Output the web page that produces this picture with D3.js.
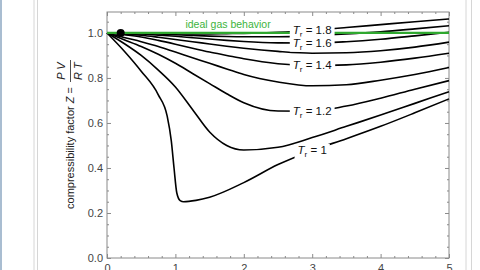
<!DOCTYPE html>
<html>
<head>
<meta charset="utf-8">
<script src="https://cdn.jsdelivr.net/npm/d3@7"></script>
<style>
body { margin: 0; background: #fff; }
svg { display: block; font-family: "Liberation Sans", Arial, sans-serif; }
</style>
</head>
<body>
<div id="chart"></div>
<script>
// reduced pressure grid shared by most isotherms
const PR = [0, 0.25, 0.5, 0.75, 1, 1.25, 1.5, 1.75, 2, 2.5, 3, 3.5, 4, 4.5, 5];
// Tr = 1 needs a finer grid near the critical point
const PR_TR10 = [0, 0.25, 0.5, 0.75, 0.88, 0.94, 0.98, 1.02, 1.07, 1.12, 1.3, 1.5, 2, 2.5, 3, 3.5, 4, 4.5, 5];
const Z_TR10 = [1, 0.92, 0.83, 0.725, 0.63, 0.52, 0.40, 0.29, 0.255, 0.25, 0.256, 0.27, 0.335, 0.415, 0.478, 0.53, 0.585, 0.645, 0.707];
const Z_TR11 = [1, 0.953, 0.90, 0.835, 0.76, 0.66, 0.56, 0.50, 0.48, 0.492, 0.535, 0.585, 0.635, 0.687, 0.739];
const Z_TR12 = [1, 0.97, 0.94, 0.905, 0.865, 0.82, 0.775, 0.73, 0.69, 0.653, 0.652, 0.675, 0.71, 0.75, 0.788];
const Z_TR13 = [1, 0.98, 0.961, 0.94, 0.915, 0.89, 0.865, 0.84, 0.815, 0.782, 0.765, 0.77, 0.79, 0.815, 0.846];
const Z_TR14 = [1, 0.992, 0.982, 0.967, 0.95, 0.932, 0.915, 0.90, 0.885, 0.863, 0.855, 0.858, 0.87, 0.888, 0.91];
const Z_TR15 = [1, 0.996, 0.99, 0.981, 0.971, 0.961, 0.951, 0.941, 0.932, 0.918, 0.91, 0.912, 0.921, 0.937, 0.959];
const Z_TR16 = [1, 0.998, 0.995, 0.99, 0.985, 0.979, 0.973, 0.967, 0.962, 0.956, 0.955, 0.961, 0.972, 0.987, 1.003];
const Z_TR17 = [1, 0.999, 0.997, 0.995, 0.992, 0.989, 0.986, 0.984, 0.983, 0.983, 0.987, 0.995, 1.005, 1.018, 1.032];
const Z_TR18 = [1, 1, 0.999, 0.998, 0.997, 0.996, 0.996, 0.997, 0.998, 1.003, 1.012, 1.024, 1.037, 1.05, 1.062];

const TR_VALUES = [1, 1.1, 1.2, 1.3, 1.4, 1.5, 1.6, 1.7, 1.8];
const LABELLED_TR = [1.8, 1.6, 1.4, 1.2, 1];
const LABEL_TEXT = ["1.8", "1.6", "1.4", "1.2", "1"];
const LABEL_PR = 3;

const IDEAL_PR = [0, 5];
const IDEAL_Z = [1, 1];
const MARKER_PR = 0.2;

const X_TICKS = [0, 1, 2, 3, 4, 5];
const Y_TICKS = [0, 0.2, 0.4, 0.6, 0.8, 1.0];

const WIDTH = 480;
const HEIGHT = 270;
const LEFT = 107, RIGHT = 449, TOP = 12, BOTTOM = 258;

const X_SCALE = d3.scaleLinear().domain([0, 5]).range([LEFT, RIGHT]);
const Y_SCALE = d3.scaleLinear().domain([0, 1.093]).range([BOTTOM, TOP]);

const zSets = [Z_TR10, Z_TR11, Z_TR12, Z_TR13, Z_TR14, Z_TR15, Z_TR16, Z_TR17, Z_TR18];
const curves = TR_VALUES.map((tr, i) => {
    const pr = i === 0 ? PR_TR10 : PR;
    return { tr: tr, points: pr.map((p, j) => [p, zSets[i][j]]) };
});

let svg = d3.select('#chart')
            .append('svg')
            .attr('width', WIDTH)
            .attr('height', HEIGHT);

// window chrome around the notebook
svg.append('rect').attr('x', 0).attr('y', 0).attr('width', 2).attr('height', HEIGHT).attr('fill', '#a9bdd1');
[34, 37.5, 466, 471.5].forEach(x => {
    svg.append('line')
       .attr('x1', x).attr('x2', x).attr('y1', 0).attr('y2', HEIGHT)
       .attr('stroke', '#d6d6d6').attr('stroke-width', 1);
});

// frame ticks (inward, Mathematica style)
const minorX = d3.range(0, 5.001, 0.2).filter(v => Math.abs(v - Math.round(v)) > 1e-6);
const minorY = d3.range(0, 1.0901, 0.05).filter(v => Math.abs(v * 5 - Math.round(v * 5)) > 1e-6);

function styleAxis(g) {
    g.select('.domain').remove();
    g.selectAll('line').attr('stroke', '#8a8a8a');
    g.selectAll('text').attr('fill', '#444').attr('font-size', 11)
     .attr('font-family', '"Liberation Sans", Arial, sans-serif');
}

svg.append('g').attr('transform', 'translate(' + LEFT + ',0)')
   .call(d3.axisLeft(Y_SCALE).tickValues(Y_TICKS).tickSize(-4).tickPadding(4).tickFormat(d3.format('.1f')))
   .call(styleAxis);
svg.append('g').attr('transform', 'translate(' + LEFT + ',0)')
   .call(d3.axisLeft(Y_SCALE).tickValues(minorY).tickSize(-2).tickFormat(''))
   .call(styleAxis);
svg.append('g').attr('transform', 'translate(' + RIGHT + ',0)')
   .call(d3.axisRight(Y_SCALE).tickValues(Y_TICKS).tickSize(-4).tickFormat(''))
   .call(styleAxis);
svg.append('g').attr('transform', 'translate(' + RIGHT + ',0)')
   .call(d3.axisRight(Y_SCALE).tickValues(minorY).tickSize(-2).tickFormat(''))
   .call(styleAxis);
svg.append('g').attr('transform', 'translate(0,' + BOTTOM + ')')
   .call(d3.axisBottom(X_SCALE).tickValues(X_TICKS).tickSize(-4).tickPadding(6).tickFormat(d3.format('d')))
   .call(styleAxis);
svg.append('g').attr('transform', 'translate(0,' + BOTTOM + ')')
   .call(d3.axisBottom(X_SCALE).tickValues(minorX).tickSize(-2).tickFormat(''))
   .call(styleAxis);
svg.append('g').attr('transform', 'translate(0,' + TOP + ')')
   .call(d3.axisTop(X_SCALE).tickValues(X_TICKS).tickSize(-4).tickFormat(''))
   .call(styleAxis);
svg.append('g').attr('transform', 'translate(0,' + TOP + ')')
   .call(d3.axisTop(X_SCALE).tickValues(minorX).tickSize(-2).tickFormat(''))
   .call(styleAxis);

svg.append('rect')
   .attr('x', LEFT).attr('y', TOP)
   .attr('width', RIGHT - LEFT).attr('height', BOTTOM - TOP)
   .attr('fill', 'none').attr('stroke', '#8a8a8a').attr('stroke-width', 1);

// y axis title: compressibility factor Z = PV/RT
let yTitle = svg.append('g').attr('transform', 'translate(74,135) rotate(-90)')
                .attr('font-size', 11).attr('fill', '#222');
let main = yTitle.append('text').attr('x', 48).attr('y', 0).attr('text-anchor', 'end');
main.append('tspan').text('compressibility factor ');
main.append('tspan').attr('font-style', 'italic').text('Z');
main.append('tspan').text(' =');
yTitle.append('text').attr('x', 64).attr('y', -9).attr('text-anchor', 'middle')
      .attr('font-style', 'italic').text('P V');
yTitle.append('line').attr('x1', 53).attr('x2', 75).attr('y1', -3.5).attr('y2', -3.5)
      .attr('stroke', '#222').attr('stroke-width', 0.8);
yTitle.append('text').attr('x', 64).attr('y', 8).attr('text-anchor', 'middle')
      .attr('font-style', 'italic').text('R T');

// isotherms
const line = d3.line()
               .x(d => X_SCALE(d[0]))
               .y(d => Y_SCALE(d[1]))
               .curve(d3.curveMonotoneX);

svg.append('g').selectAll('path')
   .data(curves)
   .enter()
   .append('path')
   .attr('d', d => line(d.points))
   .attr('fill', 'none')
   .attr('stroke', '#000')
   .attr('stroke-width', 1.6);

// ideal gas
svg.append('path')
   .attr('d', line(IDEAL_PR.map((p, i) => [p, IDEAL_Z[i]])))
   .attr('fill', 'none')
   .attr('stroke', '#2fa82f')
   .attr('stroke-width', 2.2);

svg.append('text')
   .attr('x', X_SCALE(1.77))
   .attr('y', Y_SCALE(1) - 5)
   .attr('text-anchor', 'middle')
   .attr('font-size', 10.5)
   .attr('fill', '#3cb43c')
   .text('ideal gas behavior');

// Tr labels sitting on the curves with white backing
LABELLED_TR.forEach((tr, i) => {
    const c = curves[TR_VALUES.indexOf(tr)];
    const pt = c.points.find(p => p[0] === LABEL_PR);
    let g = svg.append('g')
               .attr('transform', 'translate(' + X_SCALE(pt[0]) + ',' + Y_SCALE(pt[1]) + ')');
    let t = g.append('text')
             .attr('y', 3.5)
             .attr('text-anchor', 'middle')
             .attr('font-size', 11.5)
             .attr('fill', '#111');
    t.append('tspan').attr('font-style', 'italic').text('T');
    t.append('tspan').attr('font-size', 8).attr('dy', 3).text('r');
    t.append('tspan').attr('dy', -3).text(' = ' + LABEL_TEXT[i]);
    const bb = t.node().getBBox();
    g.insert('rect', 'text')
     .attr('x', bb.x - 3).attr('y', bb.y)
     .attr('width', bb.width + 6).attr('height', bb.height)
     .attr('fill', '#fff');
});

// marker point
svg.append('circle')
   .attr('cx', X_SCALE(MARKER_PR))
   .attr('cy', Y_SCALE(1))
   .attr('r', 4)
   .attr('fill', '#000');
</script>
</body>
</html>
